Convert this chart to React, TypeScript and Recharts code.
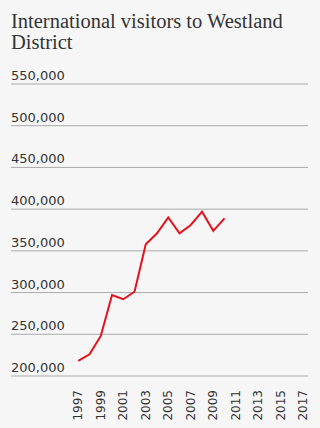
import { CartesianGrid, Line, LineChart, XAxis, YAxis } from "recharts";

const years = [1997, 1998, 1999, 2000, 2001, 2002, 2003, 2004, 2005, 2006, 2007, 2008, 2009, 2010];
const visitors = [218000, 226000, 248000, 297000, 292000, 301000, 358000, 371000, 390000, 371000, 381000, 397000, 374000, 389000];
const yTicks = [200000, 250000, 300000, 350000, 400000, 450000, 500000, 550000];
const xTicks = [1997, 1999, 2001, 2003, 2005, 2007, 2009, 2011, 2013, 2015, 2017];

const data = years.map((year, i) => ({ year, visitors: visitors[i] }));

const tickFont = "'DejaVu Sans', sans-serif";

function YTick({ y, payload }: { y?: number; payload?: { value: number } }) {
  return (
    <text x={11} y={(y ?? 0) - 4} textAnchor="start" fontFamily={tickFont} fontSize={13} fill="#333">
      {payload?.value.toLocaleString("en-US")}
    </text>
  );
}

function XTick({ x, y, payload }: { x?: number; y?: number; payload?: { value: number } }) {
  return (
    <text
      x={x}
      y={(y ?? 0) + 6}
      transform={`rotate(-90 ${x} ${(y ?? 0) + 6})`}
      textAnchor="end"
      dy="0.35em"
      fontFamily={tickFont}
      fontSize={12}
      fill="#333"
    >
      {payload?.value}
    </text>
  );
}

export default function App() {
  return (
    <div style={{ position: "absolute", left: 0, top: 0, width: 320, height: 428, background: "#f6f6f6" }}>
      <div
        style={{
          position: "absolute",
          left: 11,
          top: 11,
          width: 305,
          fontFamily: "'Liberation Serif', serif",
          fontSize: 20.5,
          lineHeight: "21px",
          color: "#333",
        }}
      >
        International visitors to Westland District
      </div>
      <div style={{ position: "absolute", left: 0, top: 0 }}>
        <LineChart width={320} height={428} data={data} margin={{ top: 84, right: 12, left: 10, bottom: 0 }}>
          <CartesianGrid vertical={false} stroke="#aaa" />
          <XAxis
            dataKey="year"
            type="number"
            domain={[1991.02, 2017.42]}
            ticks={xTicks}
            allowDataOverflow
            axisLine={false}
            tickLine={false}
            height={52}
            tick={<XTick />}
            interval={0}
          />
          <YAxis
            domain={[200000, 550000]}
            ticks={yTicks}
            width={1}
            axisLine={false}
            tickLine={false}
            tick={<YTick />}
            interval={0}
          />
          <Line
            type="linear"
            dataKey="visitors"
            stroke="#e3121b"
            strokeWidth={2}
            dot={false}
            isAnimationActive={false}
          />
        </LineChart>
      </div>
    </div>
  );
}
